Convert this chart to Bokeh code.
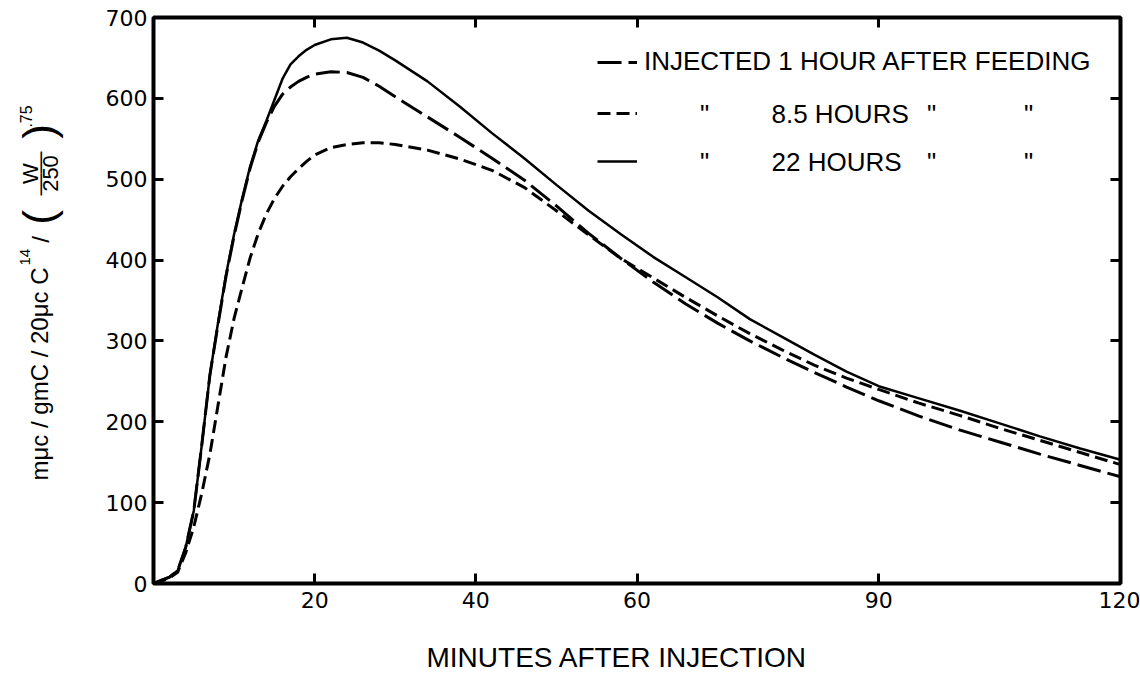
import math
from bokeh.plotting import figure
from bokeh.layouts import row
from bokeh.models import Range1d, LinearAxis, FixedTicker, Label, Legend, LegendItem, Title
from bokeh.core.properties import value
from bokeh.embed import file_html
from bokeh.resources import INLINE

# ---- data ----
minutes = [0, 1, 2, 3, 4, 5, 6, 7, 8, 9, 10, 11, 12, 13, 14, 15, 16, 17, 18, 19, 20,
           22, 24, 26, 28, 30, 34, 38, 42, 46, 50, 54, 58, 62, 66, 70, 74, 78, 82, 86,
           90, 95, 100, 105, 110, 115, 120]
hour_1 = [0, 4, 8, 16, 45, 90, 172, 258, 320, 380, 430, 474, 514, 546, 570, 590, 605, 614, 621, 626, 630,
          633, 632, 626, 615, 602, 577, 552, 526, 499, 467, 433, 402, 373, 346, 322, 300, 280, 261, 243,
          226, 207, 190, 175, 160, 146, 132]
hours_8_5 = [0, 3, 7, 14, 38, 70, 112, 160, 220, 280, 328, 366, 403, 433, 457, 476, 491, 503, 513, 522, 530,
             539, 543, 545, 545, 543, 536, 525, 511, 490, 461, 431, 402, 378, 354, 331, 309, 289, 270, 254,
             240, 223, 208, 192, 177, 162, 147]
hours_22 = [0, 4, 8, 16, 45, 90, 172, 258, 322, 382, 432, 476, 516, 548, 572, 598, 624, 642, 652, 660, 666,
            673, 675, 669, 659, 647, 621, 590, 557, 526, 493, 461, 432, 404, 379, 354, 327, 305, 283, 262,
            244, 229, 214, 198, 182, 167, 153]

x_ticks = [20, 40, 60, 90, 120]
y_ticks = [0, 100, 200, 300, 400, 500, 600, 700]
legend_main = "INJECTED 1 HOUR AFTER FEEDING"
legend_row2 = "8.5 HOURS"
legend_row3 = "22 HOURS"
x_title = "MINUTES AFTER INJECTION"
y_title_main = "mμc / gmC / 20μc C"

TICK_FONT = "DejaVu Sans"
TEXT_FONT = "Liberation Sans"

# ---------------- main chart ----------------
p = figure(width=1060, height=676, output_backend="svg", toolbar_location=None,
           x_range=Range1d(0, 120), y_range=Range1d(0, 700),
           min_border_left=73, min_border_right=20, min_border_top=17, min_border_bottom=93)
p.grid.visible = False
p.background_fill_color = "white"
p.border_fill_color = "white"
p.outline_line_color = "black"
p.outline_line_width = 4
p.outline_line_alpha = 1.0


def style_axis(ax, ticks, show_labels):
    ax.ticker = FixedTicker(ticks=ticks)
    ax.axis_line_color = None
    ax.major_tick_in = 10
    ax.major_tick_out = 0
    ax.major_tick_line_width = 3
    ax.major_tick_line_color = "black"
    ax.minor_tick_line_color = None
    if show_labels:
        ax.major_label_text_font = TICK_FONT
        ax.major_label_text_font_size = "22px"
        ax.major_label_text_color = "black"
    else:
        ax.major_label_overrides = {t: "" for t in ticks}
        ax.major_label_text_font_size = "1px"
        ax.major_label_standoff = 0


style_axis(p.xaxis[0], x_ticks, True)
p.xaxis[0].major_label_standoff = 8
style_axis(p.yaxis[0], y_ticks, True)
p.yaxis[0].major_label_standoff = 6

top = LinearAxis()
style_axis(top, x_ticks[:-1], False)
p.add_layout(top, "above")
right = LinearAxis()
style_axis(right, y_ticks[1:-1], False)
p.add_layout(right, "right")

r1 = p.line(minutes, hour_1, line_color="black", line_width=3, line_dash="24 7")
r2 = p.line(minutes, hours_8_5, line_color="black", line_width=3, line_dash="13 6")
r3 = p.line(minutes, hours_22, line_color="black", line_width=2.5)

legend = Legend(items=[LegendItem(label=legend_main, renderers=[r1]),
                       LegendItem(label=" ", renderers=[r2]),
                       LegendItem(label=" ", renderers=[r3])],
                location=(444, 410), glyph_width=40, glyph_height=24, label_height=24,
                spacing=24, padding=0, margin=0, label_standoff=7,
                border_line_color=None, background_fill_alpha=0,
                label_text_font=TEXT_FONT, label_text_font_size="26px",
                label_text_color="black")
p.add_layout(legend)


def add_label(text, x, y, size, align="center"):
    p.add_layout(Label(x=x, y=y, x_units="screen", y_units="screen", text=text,
                       text_font=TEXT_FONT, text_font_size=size, text_align=align,
                       text_baseline="middle", text_color="black"))


# legend ditto rows
for yrow, txt in ((470, legend_row2), (422, legend_row3)):
    add_label('"', 551, yrow, "26px")
    add_label(txt, 618, yrow, "26px", align="left")
    add_label('"', 778, yrow, "26px")
    add_label('"', 875, yrow, "26px")

# x title (leading empty line keeps it a line below the tick labels)
p.add_layout(Title(text="\n" + x_title, align="left", offset=273, standoff=0, vertical_align="top",
                   text_font=TEXT_FONT, text_font_size="28px", text_font_style="normal",
                   text_color="black"), "below")

# ---------------- y title panel ----------------
q = figure(width=80, height=676, output_backend="svg", toolbar_location=None,
           x_range=Range1d(0, 80), y_range=Range1d(93, 659),
           min_border_left=0, min_border_right=0, min_border_top=17, min_border_bottom=93,
           x_axis_location=None, y_axis_location=None)
q.grid.visible = False
q.outline_line_color = None
q.background_fill_color = "white"
q.border_fill_color = "white"

A = math.pi / 2


def ytext(x, y, text, size, align="center"):
    q.text(x=[x], y=[y], text=[text], angle=A, text_font=value(TEXT_FONT),
           text_font_size=size, text_align=align, text_baseline="middle", text_color="black")


ytext(39, 196, y_title_main, "24px", align="left")
ytext(24, 411, "14", "15px", align="left")
ytext(40, 437, "/", "24px")
ytext(38, 459, "(", "44px")
ytext(30, 503, "W", "22px")
ytext(39, 503, "——", "22px")
ytext(50, 503, "250", "22px")
ytext(38, 545, ")", "44px")
ytext(25, 560, ".75", "16px")

layout = row(q, p)
open("out.html", "w").write(file_html(layout, INLINE))
